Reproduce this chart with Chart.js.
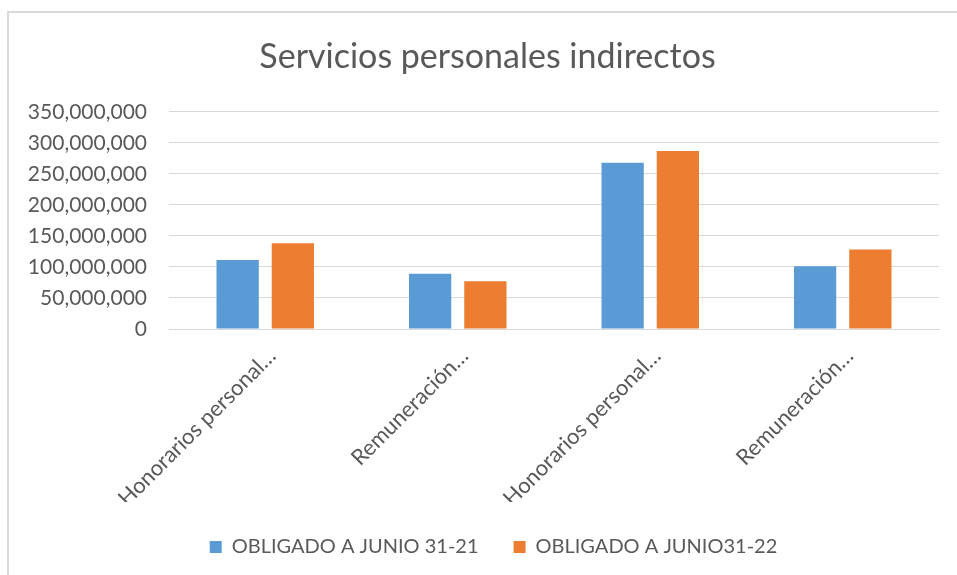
<!DOCTYPE html>
<html>
<head>
<meta charset="utf-8">
<script src="https://cdn.jsdelivr.net/npm/chart.js@4.4.1/dist/chart.umd.min.js"></script>
<style>
  html, body { margin: 0; padding: 0; background: #fff; }
  #wrap { position: relative; width: 957px; height: 575px; overflow: hidden; }
  #frame {
    position: absolute; left: 7px; top: 11px; width: 1000px; height: 700px;
    border-top: 2px solid #d9d9d9; border-left: 2px solid #d9d9d9;
    pointer-events: none;
  }
  canvas { position: absolute; left: 0; top: 0; }
</style>
</head>
<body>
<div id="wrap">
  <canvas id="barChart" width="957" height="575"></canvas>
  <div id="frame"></div>
</div>
<script>
const categories = ['Honorarios personal…', 'Remuneración…', 'Honorarios personal…', 'Remuneración…'];
const obligado2021 = [111000000, 89000000, 268000000, 101000000];
const obligado2022 = [138000000, 77000000, 287000000, 128000000];
const yTicks = [0, 50000000, 100000000, 150000000, 200000000, 250000000, 300000000, 350000000];

const textGray = '#595959';
const fontFamily = 'Lato, "Noto Sans", sans-serif';

// nudge title and legend so they sit centred like in the original chart
const shiftBoxes = {
  id: 'shiftBoxes',
  afterLayout(chart) {
    chart.titleBlock.left += 8;
    chart.titleBlock.right += 8;
    chart.legend.left += 14;
    chart.legend.right += 14;
  }
};

const barCtx = document.getElementById('barChart').getContext('2d');
new Chart(barCtx, {
  type: 'bar',
  data: {
    labels: categories,
    datasets: [{
      label: 'OBLIGADO A JUNIO 31-21',
      data: obligado2021,
      backgroundColor: '#5b9bd5',
      categoryPercentage: 0.574,
      barPercentage: 0.765
    }, {
      label: 'OBLIGADO A JUNIO31-22',
      data: obligado2022,
      backgroundColor: '#ed7d31',
      categoryPercentage: 0.574,
      barPercentage: 0.765
    }]
  },
  plugins: [shiftBoxes],
  options: {
    responsive: false,
    animation: false,
    layout: {
      padding: { top: 37, left: 20, right: 18, bottom: 8 }
    },
    scales: {
      y: {
        min: 0,
        max: 350000000,
        afterBuildTicks: (scale) => {
          scale.ticks = yTicks.map(v => ({ value: v }));
        },
        afterFit: (scale) => { scale.width = 149; },
        border: { display: false },
        grid: { color: '#d9d9d9', lineWidth: 1, drawTicks: false },
        ticks: {
          padding: 22,
          color: textGray,
          font: { family: fontFamily, size: 21 },
          callback: (v) => v.toLocaleString('en-US')
        }
      },
      x: {
        afterFit: (scale) => { scale.height = 173; },
        border: { color: '#d9d9d9', width: 1 },
        grid: { display: false, drawTicks: false },
        ticks: {
          autoSkip: false,
          maxRotation: 45,
          minRotation: 45,
          padding: 14,
          labelOffset: 7,
          color: textGray,
          font: { family: fontFamily, size: 22 }
        }
      }
    },
    plugins: {
      title: {
        display: true,
        text: 'Servicios personales indirectos',
        color: textGray,
        font: { family: fontFamily, size: 34, weight: 'normal' },
        padding: { top: 0, bottom: 34 }
      },
      legend: {
        position: 'bottom',
        labels: {
          boxWidth: 12,
          boxHeight: 12,
          padding: 35,
          color: textGray,
          font: { family: fontFamily, size: 20 }
        }
      },
      tooltip: { enabled: false }
    }
  }
});
</script>
</body>
</html>
